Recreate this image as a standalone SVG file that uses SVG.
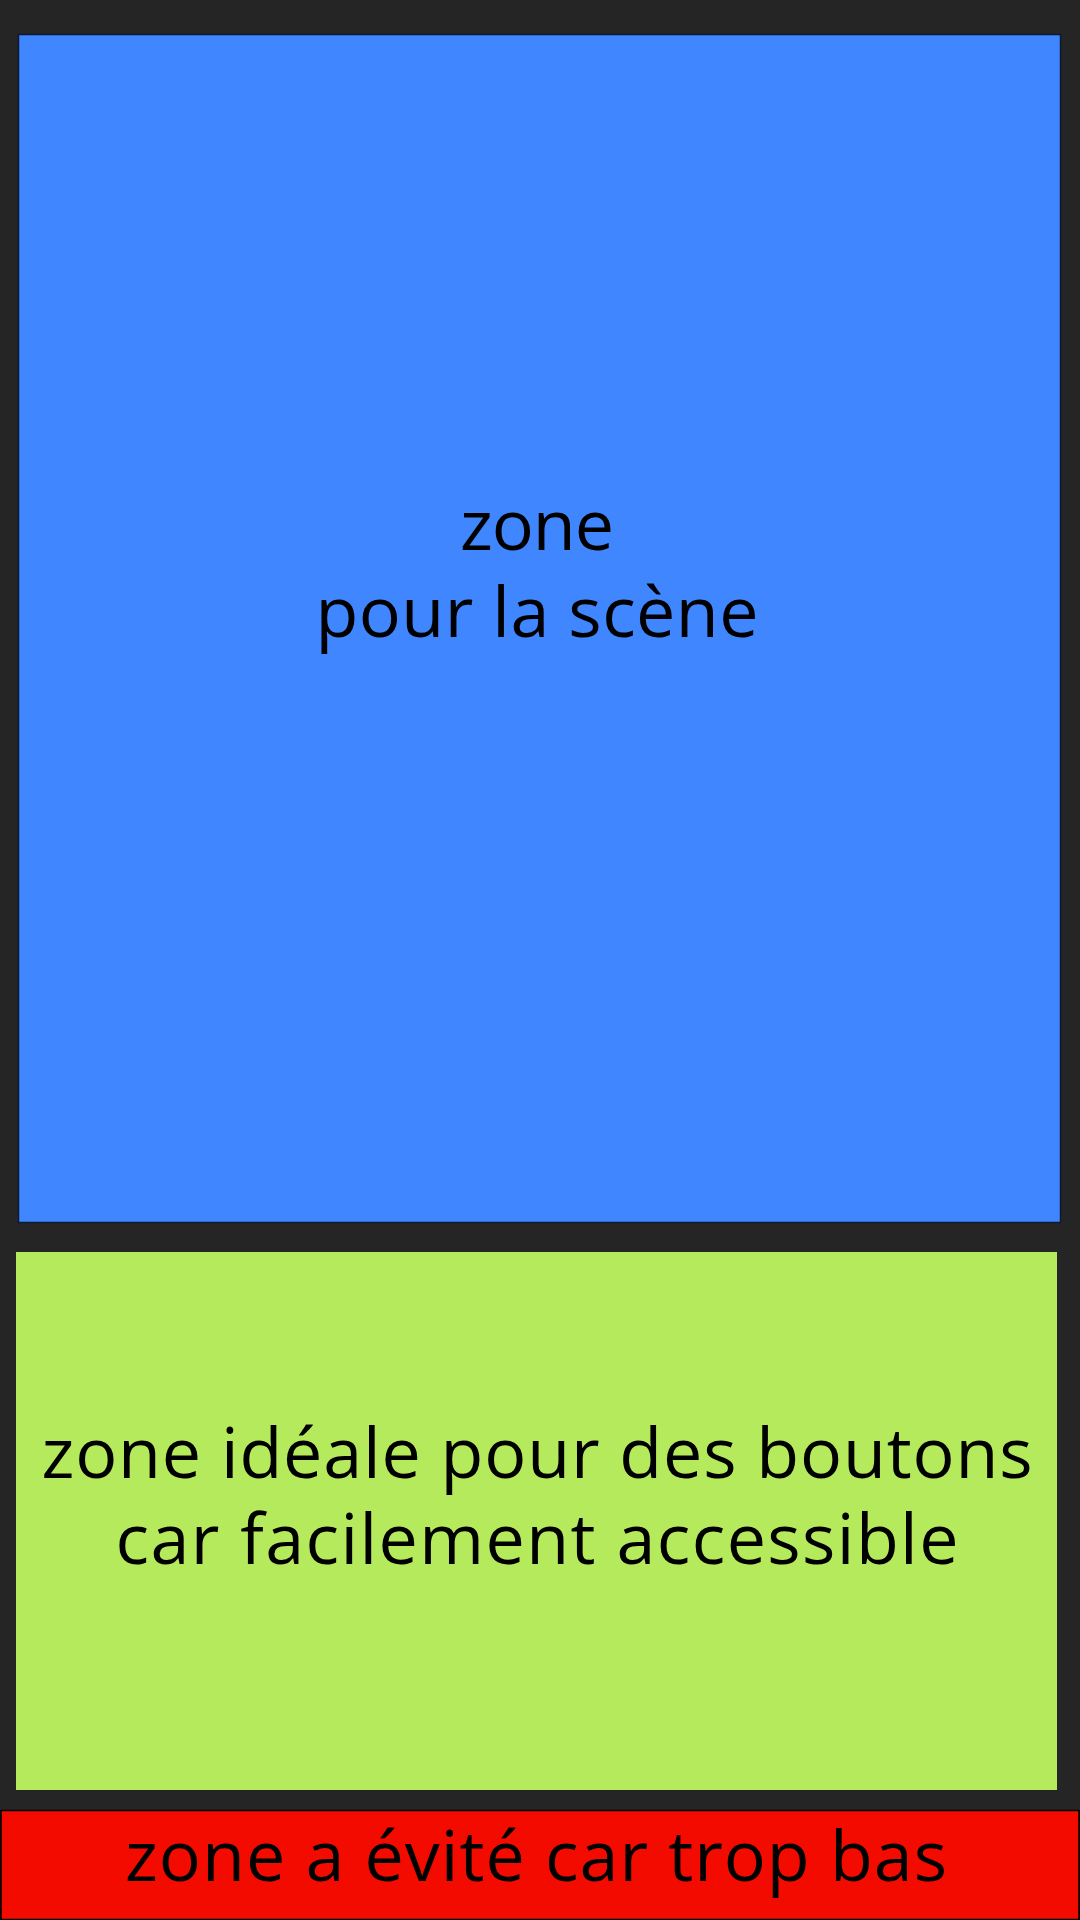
<svg xmlns="http://www.w3.org/2000/svg" width="1080" height="1920" viewBox="0 0 1080 1920">
<style>
.lbl{font-family:"Open Sans","Noto Sans","DejaVu Sans",sans-serif;font-size:70px;font-weight:400;fill:#000;text-anchor:middle}
</style>
<rect x="0" y="0" width="1080" height="1920" fill="#252525"/>
<g id="scene">
<rect x="18.5" y="34.5" width="1042" height="1188" fill="#3F86FF" stroke="#0d1a33" stroke-width="1.5"/>
<text class="lbl" x="537" y="550" textLength="154" lengthAdjust="spacing">zone</text>
<text class="lbl" x="537" y="637" textLength="443" lengthAdjust="spacing">pour la scène</text>
</g>
<g id="buttons">
<rect x="16" y="1252" width="1041" height="538" fill="#B6EA5D"/>
<text class="lbl" x="537" y="1478" textLength="991" lengthAdjust="spacing">zone idéale pour des boutons</text>
<text class="lbl" x="537" y="1564" textLength="843" lengthAdjust="spacing">car facilement accessible</text>
</g>
<g id="avoid">
<rect x="1" y="1810.5" width="1078" height="109" fill="#F30B00" stroke="#000" stroke-width="1.5"/>
<text class="lbl" x="536" y="1881" textLength="822" lengthAdjust="spacing">zone a évité car trop bas</text>
</g>
<g id="connectors"/>
</svg>
